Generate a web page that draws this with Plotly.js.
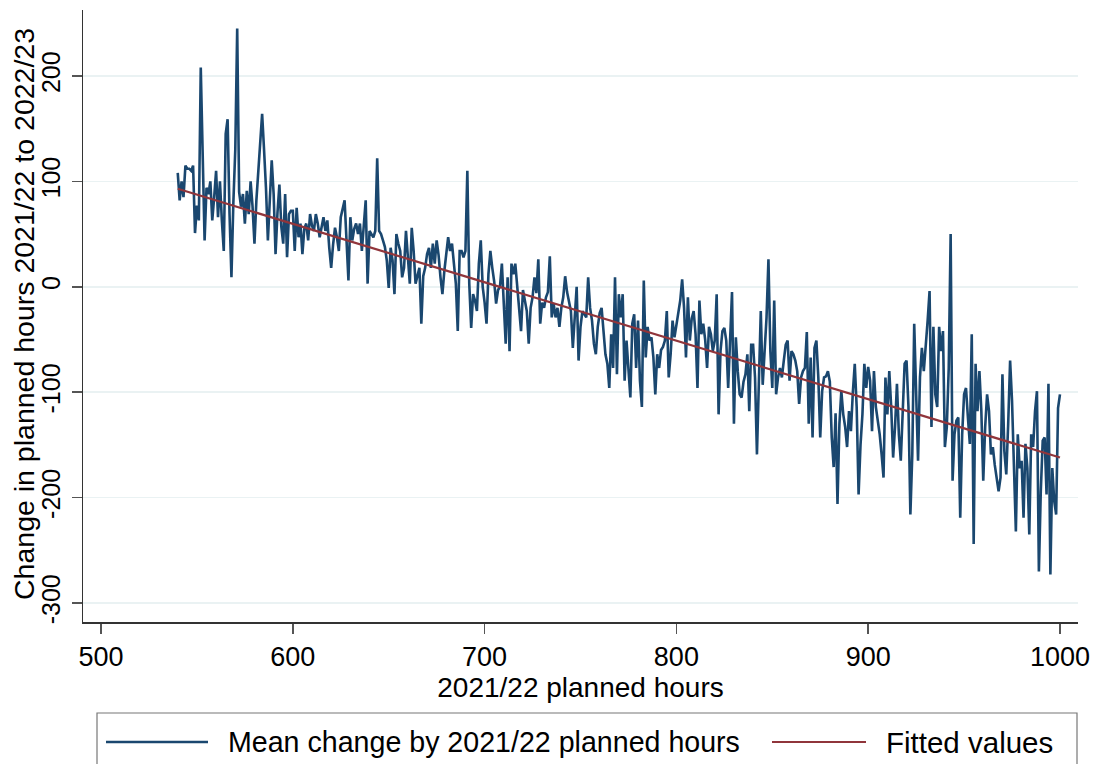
<!DOCTYPE html>
<html>
<head>
<meta charset="utf-8">
<script src="https://cdn.plot.ly/plotly-3.0.1.min.js"></script>
<style>
  html, body { margin: 0; padding: 0; background: #ffffff; }
  #chart { width: 1093px; height: 764px; }
</style>
</head>
<body>
<div id="chart"></div>
<script>
// Mean change in planned hours (2021/22 -> 2022/23), one value per 2021/22 planned hour
const hours540to589 = [108,82,100,85,115,112,112,110,115,51, 77,63,208,120,44,94,88,100,63,85, 110,66,100,63,34,145,159,69,9,80, 130,245,90,76,88,60,91,69,100,76, 41,82,111,135,164,130,94,44,80,120];
const hours590to639 = [88,31,70,97,57,41,88,28,69,72, 72,34,75,47,60,31,55,60,44,69, 58,53,69,60,47,55,66,53,63,37, 18,40,56,47,34,66,75,82,44,6, 66,44,55,60,50,60,34,60,82,3];
const hours640to689 = [53,50,47,53,122,53,50,44,38,25, -1,37,25,-7,50,41,34,9,18,53, 22,3,56,34,3,12,18,-35,10,18, 31,37,18,41,22,44,30,9,-7,15, 30,47,34,41,22,3,-42,34,34,28];
const hours690to739 = [34,110,3,-39,-7,-13,-23,22,44,0, -15,-35,12,34,18,5,-16,-3,0,22, -16,-54,9,-61,22,12,22,0,-20,-42, -3,-15,-23,-54,-20,-10,9,-6,26,-35, -15,-20,-10,-5,29,-29,-16,-29,-20,-38];
const hours740to789 = [-20,-10,10,-5,-13,-23,-58,-26,0,-70, -38,-23,-26,-29,9,-20,-32,-54,-64,-38, -25,-20,-42,-64,-73,-96,-45,-77,9,-83, -7,-29,-7,-89,-51,-77,-105,-35,-26,-77, -32,-89,-114,6,-67,-38,-51,-48,-67,-102];
const hours790to839 = [-64,-77,-60,-57,-51,-23,-86,-64,-32,-48, -35,-26,-13,7,-20,-67,-10,-51,-30,-23, -45,-96,-13,-45,-35,-50,-77,-38,-45,-61, -51,-7,-121,-61,-42,-39,-51,-96,-55,-5, -130,-48,-80,-102,-105,-90,-83,-64,-118,-55];
const hours840to889 = [-55,-86,-159,-77,-23,-93,-61,-29,26,-61, -96,-13,-102,-86,-77,-86,-70,-55,-51,-89, -61,-64,-70,-80,-111,-86,-80,-77,-43,-130, -67,-143,-58,-51,-86,-143,-99,-86,-85,-80, -90,-143,-171,-120,-206,-130,-99,-121,-133,-152];
const hours890to939 = [-118,-137,-100,-73,-114,-197,-150,-121,-73,-96, -76,-89,-137,-80,-114,-127,-140,-159,-181,-86, -121,-80,-114,-162,-133,-92,-140,-165,-108,-73, -70,-114,-216,-159,-35,-96,-165,-86,-58,-80, -58,-32,-4,-133,-38,-102,-114,-38,-61,-42];
const hours940to989 = [-152,-133,-77,50,-184,-140,-127,-124,-219,-140, -102,-96,-124,-149,-45,-244,-73,-118,-80,-118, -184,-133,-102,-118,-159,-152,-169,-181,-194,-181, -83,-156,-178,-130,-70,-108,-175,-232,-140,-172, -165,-219,-149,-172,-235,-140,-152,-118,-99,-270];
const hours990to1000 = [-194,-146,-143,-197,-92,-273,-172,-203,-216,-115,-102];

const blockStarts = [540,590,640,690,740,790,840,890,940,990];
const blocks = [hours540to589,hours590to639,hours640to689,hours690to739,hours740to789,
                hours790to839,hours840to889,hours890to939,hours940to989,hours990to1000];

// Fitted (linear) values read at the two ends
const fitHours = [540, 1000];
const fitValues = [93, -162];

const xTicks = [500, 600, 700, 800, 900, 1000];
const yTicks = [-300, -200, -100, 0, 100, 200];

const seriesName = 'Mean change by 2021/22 planned hours';
const fitName = 'Fitted values';
const xTitle = '2021/22 planned hours';
const yTitle = 'Change in planned hours 2021/22 to 2022/23';

// Build the series from the blocks
const planned = [], change = [];
blocks.forEach((b, i) => b.forEach((v, j) => { planned.push(blockStarts[i] + j); change.push(v); }));

const BLUE = '#1a476f', RED = '#90353b';
const FONT = 'Liberation Sans, Arial, Helvetica, sans-serif';

// plot geometry (pixels)
const L = 83, R = 15, T = 10, B = 142, W = 1093, H = 764;
const PW = W - L - R, PH = H - T - B;
const pxX = v => (v - L) / PW;
const pxY = v => (H - B - v) / PH;

const traces = [
  { x: planned, y: change, type: 'scatter', mode: 'lines', name: seriesName,
    line: { color: BLUE, width: 2.6 }, showlegend: false, hoverinfo: 'x+y' },
  { x: fitHours, y: fitValues, type: 'scatter', mode: 'lines', name: fitName,
    line: { color: RED, width: 2.2 }, showlegend: false }
];

const legY = 742;
const layout = {
  width: W, height: H,
  margin: { l: L, r: R, t: T, b: B, pad: 0 },
  paper_bgcolor: '#ffffff', plot_bgcolor: '#ffffff',
  font: { family: FONT, color: '#000000' },
  showlegend: false,
  xaxis: {
    range: [490.6, 1009.4], tickvals: xTicks, ticktext: xTicks.map(String),
    ticks: 'outside', ticklen: 10, tickwidth: 1.5, tickcolor: '#555555',
    showline: true, linecolor: '#333333', linewidth: 1.5,
    showgrid: false, zeroline: false,
    tickfont: { family: FONT, size: 27, color: '#000000' },
    title: { text: xTitle, font: { family: FONT, size: 28, color: '#000000' }, standoff: 0 },
    automargin: false
  },
  yaxis: {
    range: [-318, 262.6], tickvals: yTicks, ticktext: yTicks.map(String),
    tickangle: -90, ticklabelstandoff: 2,
    ticks: 'outside', ticklen: 10, tickwidth: 1.5, tickcolor: '#555555',
    showline: true, linecolor: '#333333', linewidth: 1.5,
    showgrid: true, gridcolor: '#eaf2f3', gridwidth: 1.5, zeroline: false,
    tickfont: { family: FONT, size: 25, color: '#000000' },
    automargin: false
  },
  shapes: [
    { type: 'rect', xref: 'paper', yref: 'paper', x0: pxX(97), x1: pxX(1077), y0: pxY(713), y1: pxY(790),
      line: { color: '#777777', width: 1.2 }, fillcolor: 'rgba(0,0,0,0)', layer: 'above' },
    { type: 'line', xref: 'paper', yref: 'paper', x0: pxX(106), x1: pxX(208), y0: pxY(legY), y1: pxY(legY),
      line: { color: BLUE, width: 2.6 } },
    { type: 'line', xref: 'paper', yref: 'paper', x0: pxX(772), x1: pxX(866), y0: pxY(legY), y1: pxY(legY),
      line: { color: RED, width: 2.2 } }
  ],
  annotations: [
    { xref: 'paper', yref: 'paper', x: pxX(24), y: pxY(314), xanchor: 'center', yanchor: 'middle',
      textangle: -90, text: yTitle, showarrow: false, font: { family: FONT, size: 28.5, color: '#000000' } },
    { xref: 'paper', yref: 'paper', x: pxX(226), y: pxY(legY), xanchor: 'left', yanchor: 'middle',
      text: seriesName, showarrow: false, font: { family: FONT, size: 28.6, color: '#000000' } },
    { xref: 'paper', yref: 'paper', x: pxX(884), y: pxY(legY), xanchor: 'left', yanchor: 'middle',
      text: fitName, showarrow: false, font: { family: FONT, size: 29.5, color: '#000000' } }
  ]
};

Plotly.newPlot('chart', traces, layout, { staticPlot: true, displayModeBar: false });
</script>
</body>
</html>
